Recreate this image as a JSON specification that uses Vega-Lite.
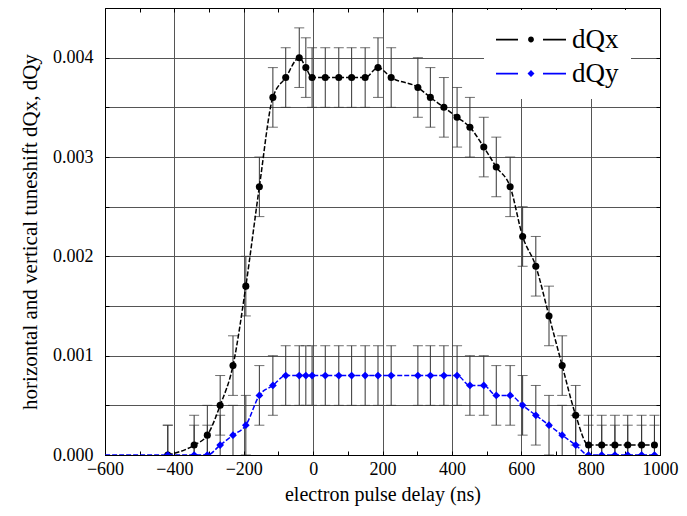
{
  "$schema": "https://vega.github.io/schema/vega-lite/v6.json",
  "width": 555,
  "height": 447,
  "autosize": {"type": "none"},
  "padding": {"left": 105, "top": 8, "right": 27, "bottom": 61},
  "background": "white",
  "config": {
    "font": "Liberation Serif",
    "view": {"stroke": "black", "strokeWidth": 1},
    "axisQuantitative": {"labelFont": "Liberation Serif", "titleFont": "Liberation Serif"},
    "axisX": {"labelFont": "Liberation Serif", "titleFont": "Liberation Serif"},
    "axisY": {"labelFont": "Liberation Serif", "titleFont": "Liberation Serif"},
    "style": {
      "guide-label": {"font": "Liberation Serif"},
      "guide-title": {"font": "Liberation Serif"}
    }
  },
  "data": {
    "values": [
      {"t": -640, "s": "dQy", "v": 0, "lo": -0.0003, "hi": 0.0003},
      {"t": -419, "s": "dQx", "v": 0, "lo": -0.0003, "hi": 0.0003},
      {"t": -343, "s": "dQx", "v": 0.0001, "lo": -0.0002, "hi": 0.0004},
      {"t": -305, "s": "dQx", "v": 0.0002, "lo": -0.0001, "hi": 0.0005},
      {"t": -268, "s": "dQx", "v": 0.0005, "lo": 0.0002, "hi": 0.0008},
      {"t": -231, "s": "dQx", "v": 0.0009, "lo": 0.0006, "hi": 0.0012},
      {"t": -194, "s": "dQx", "v": 0.0017, "lo": 0.0014, "hi": 0.002},
      {"t": -155, "s": "dQx", "v": 0.0027, "lo": 0.0024, "hi": 0.003},
      {"t": -116, "s": "dQx", "v": 0.0036, "lo": 0.0033, "hi": 0.0039},
      {"t": -79, "s": "dQx", "v": 0.0038, "lo": 0.0035, "hi": 0.0041},
      {"t": -40, "s": "dQx", "v": 0.004, "lo": 0.0037, "hi": 0.0043},
      {"t": -21, "s": "dQx", "v": 0.0039, "lo": 0.0036, "hi": 0.0042},
      {"t": -3, "s": "dQx", "v": 0.0038, "lo": 0.0035, "hi": 0.0041},
      {"t": 35, "s": "dQx", "v": 0.0038, "lo": 0.0035, "hi": 0.0041},
      {"t": 74, "s": "dQx", "v": 0.0038, "lo": 0.0035, "hi": 0.0041},
      {"t": 111, "s": "dQx", "v": 0.0038, "lo": 0.0035, "hi": 0.0041},
      {"t": 150, "s": "dQx", "v": 0.0038, "lo": 0.0035, "hi": 0.0041},
      {"t": 187, "s": "dQx", "v": 0.0039, "lo": 0.0036, "hi": 0.0042},
      {"t": 225, "s": "dQx", "v": 0.0038, "lo": 0.0035, "hi": 0.0041},
      {"t": 302, "s": "dQx", "v": 0.0037, "lo": 0.0034, "hi": 0.004},
      {"t": 338, "s": "dQx", "v": 0.0036, "lo": 0.0033, "hi": 0.0039},
      {"t": 377, "s": "dQx", "v": 0.0035, "lo": 0.0032, "hi": 0.0038},
      {"t": 415, "s": "dQx", "v": 0.0034, "lo": 0.0031, "hi": 0.0037},
      {"t": 452, "s": "dQx", "v": 0.0033, "lo": 0.003, "hi": 0.0036},
      {"t": 492, "s": "dQx", "v": 0.0031, "lo": 0.0028, "hi": 0.0034},
      {"t": 528, "s": "dQx", "v": 0.0029, "lo": 0.0026, "hi": 0.0032},
      {"t": 568, "s": "dQx", "v": 0.0027, "lo": 0.0024, "hi": 0.003},
      {"t": 604, "s": "dQx", "v": 0.0022, "lo": 0.0019, "hi": 0.0025},
      {"t": 642, "s": "dQx", "v": 0.0019, "lo": 0.0016, "hi": 0.0022},
      {"t": 680, "s": "dQx", "v": 0.0014, "lo": 0.0011, "hi": 0.0017},
      {"t": 718, "s": "dQx", "v": 0.0009, "lo": 0.0006, "hi": 0.0012},
      {"t": 757, "s": "dQx", "v": 0.0004, "lo": 0.0001, "hi": 0.0007},
      {"t": 794, "s": "dQx", "v": 0.0001, "lo": -0.0002, "hi": 0.0004},
      {"t": 832, "s": "dQx", "v": 0.0001, "lo": -0.0002, "hi": 0.0004},
      {"t": 870, "s": "dQx", "v": 0.0001, "lo": -0.0002, "hi": 0.0004},
      {"t": 907, "s": "dQx", "v": 0.0001, "lo": -0.0002, "hi": 0.0004},
      {"t": 947, "s": "dQx", "v": 0.0001, "lo": -0.0002, "hi": 0.0004},
      {"t": 984, "s": "dQx", "v": 0.0001, "lo": -0.0002, "hi": 0.0004},
      {"t": -419, "s": "dQy", "v": 0, "lo": -0.0003, "hi": 0.0003},
      {"t": -343, "s": "dQy", "v": 0, "lo": -0.0003, "hi": 0.0003},
      {"t": -305, "s": "dQy", "v": 0, "lo": -0.0003, "hi": 0.0003},
      {"t": -268, "s": "dQy", "v": 0.0001, "lo": -0.0002, "hi": 0.0004},
      {"t": -231, "s": "dQy", "v": 0.0002, "lo": -0.0001, "hi": 0.0005},
      {"t": -194, "s": "dQy", "v": 0.0003, "lo": 0, "hi": 0.0006},
      {"t": -155, "s": "dQy", "v": 0.0006, "lo": 0.0003, "hi": 0.0009},
      {"t": -116, "s": "dQy", "v": 0.0007, "lo": 0.0004, "hi": 0.001},
      {"t": -79, "s": "dQy", "v": 0.0008, "lo": 0.0005, "hi": 0.0011},
      {"t": -40, "s": "dQy", "v": 0.0008, "lo": 0.0005, "hi": 0.0011},
      {"t": -21, "s": "dQy", "v": 0.0008, "lo": 0.0005, "hi": 0.0011},
      {"t": -3, "s": "dQy", "v": 0.0008, "lo": 0.0005, "hi": 0.0011},
      {"t": 35, "s": "dQy", "v": 0.0008, "lo": 0.0005, "hi": 0.0011},
      {"t": 74, "s": "dQy", "v": 0.0008, "lo": 0.0005, "hi": 0.0011},
      {"t": 111, "s": "dQy", "v": 0.0008, "lo": 0.0005, "hi": 0.0011},
      {"t": 150, "s": "dQy", "v": 0.0008, "lo": 0.0005, "hi": 0.0011},
      {"t": 187, "s": "dQy", "v": 0.0008, "lo": 0.0005, "hi": 0.0011},
      {"t": 225, "s": "dQy", "v": 0.0008, "lo": 0.0005, "hi": 0.0011},
      {"t": 302, "s": "dQy", "v": 0.0008, "lo": 0.0005, "hi": 0.0011},
      {"t": 338, "s": "dQy", "v": 0.0008, "lo": 0.0005, "hi": 0.0011},
      {"t": 377, "s": "dQy", "v": 0.0008, "lo": 0.0005, "hi": 0.0011},
      {"t": 415, "s": "dQy", "v": 0.0008, "lo": 0.0005, "hi": 0.0011},
      {"t": 452, "s": "dQy", "v": 0.0007, "lo": 0.0004, "hi": 0.001},
      {"t": 492, "s": "dQy", "v": 0.0007, "lo": 0.0004, "hi": 0.001},
      {"t": 528, "s": "dQy", "v": 0.0006, "lo": 0.0003, "hi": 0.0009},
      {"t": 568, "s": "dQy", "v": 0.0006, "lo": 0.0003, "hi": 0.0009},
      {"t": 604, "s": "dQy", "v": 0.0005, "lo": 0.0002, "hi": 0.0008},
      {"t": 642, "s": "dQy", "v": 0.0004, "lo": 0.0001, "hi": 0.0007},
      {"t": 680, "s": "dQy", "v": 0.0003, "lo": 0, "hi": 0.0006},
      {"t": 718, "s": "dQy", "v": 0.0002, "lo": -0.0001, "hi": 0.0005},
      {"t": 757, "s": "dQy", "v": 0.0001, "lo": -0.0002, "hi": 0.0004},
      {"t": 794, "s": "dQy", "v": 0, "lo": -0.0003, "hi": 0.0003},
      {"t": 832, "s": "dQy", "v": 0, "lo": -0.0003, "hi": 0.0003},
      {"t": 870, "s": "dQy", "v": 0, "lo": -0.0003, "hi": 0.0003},
      {"t": 907, "s": "dQy", "v": 0, "lo": -0.0003, "hi": 0.0003},
      {"t": 947, "s": "dQy", "v": 0, "lo": -0.0003, "hi": 0.0003},
      {"t": 984, "s": "dQy", "v": 0, "lo": -0.0003, "hi": 0.0003}
    ]
  },
  "resolve": {"axis": {"x": "independent", "y": "independent"}},
  "layer": [
    {
      "transform": [{"filter": "datum.t > 100000"}],
      "mark": {"type": "point", "filled": true, "opacity": 1, "size": 1225},
      "encoding": {
        "x": {"field": "t", "type": "quantitative", "axis": null},
        "y": {"field": "v", "type": "quantitative", "axis": null},
        "color": {
          "field": "s", "type": "nominal",
          "scale": {"domain": ["dQx", "dQy"], "range": ["black", "#0000ff"]},
          "legend": {
            "title": null,
            "orient": "none",
            "legendX": 379,
            "legendY": 2,
            "fillColor": "white",
            "padding": 12,
            "labelFont": "Liberation Serif",
            "labelFontSize": 27,
            "labelColor": "black",
            "labelOffset": 41,
            "symbolSize": 1225,
            "symbolStrokeWidth": 0,
            "symbolOpacity": 1,
            "rowPadding": 3
          }
        },
        "shape": {
          "field": "s", "type": "nominal",
          "scale": {"domain": ["dQx", "dQy"], "range": [
            "M-1,-0.05L0.257,-0.05L0.257,0.05L-1,0.05ZM1.686,-0.05L3,-0.05L3,0.05L1.686,0.05ZM0.834,0A0.166,0.166,0,1,0,1.166,0A0.166,0.166,0,1,0,0.834,0Z",
            "M-1,-0.05L0.257,-0.05L0.257,0.05L-1,0.05ZM1.686,-0.05L3,-0.05L3,0.05L1.686,0.05ZM1,-0.2L1.2,0L1,0.2L0.8,0Z"
          ]}
        }
      }
    },
    {
      "mark": {"type": "rule", "clip": true, "color": "#333", "strokeWidth": 1},
      "encoding": {
        "x": {
          "field": "t", "type": "quantitative",
          "scale": {"domain": [-600, 1000], "nice": false, "zero": false},
          "axis": {
            "orient": "bottom",
            "values": [-600, -400, -200, 0, 200, 400, 600, 800, 1000],
            "format": "d",
            "labelFont": "Liberation Serif",
            "titleFont": "Liberation Serif",
            "labelFontSize": 18,
            "titleFontSize": 20,
            "labelColor": "black",
            "titleColor": "black",
            "titleFontWeight": "normal",
            "domainColor": "black",
            "tickColor": "black",
            "tickSize": -4,
            "labelPadding": 9,
            "labelFlush": false,
            "labelOverlap": false,
            "title": "electron pulse delay (ns)",
            "titlePadding": 6,
            "grid": false
          }
        },
        "y": {
          "field": "lo", "type": "quantitative",
          "scale": {"domain": [0, 0.0045], "nice": false, "zero": false},
          "axis": {
            "orient": "left",
            "values": [0, 0.001, 0.002, 0.003, 0.004],
            "format": ".3f",
            "labelFont": "Liberation Serif",
            "titleFont": "Liberation Serif",
            "labelFontSize": 18,
            "titleFontSize": 21,
            "labelColor": "black",
            "titleColor": "black",
            "titleFontWeight": "normal",
            "domainColor": "black",
            "tickColor": "black",
            "tickSize": -4,
            "labelPadding": 16,
            "labelOverlap": false,
            "labelFlush": false,
            "title": "horizontal and vertical tuneshift dQx, dQy",
            "titlePadding": 12,
            "grid": false
          }
        },
        "y2": {"field": "hi"}
      }
    },
    {
      "mark": {"type": "tick", "clip": true, "orient": "horizontal", "color": "#333", "size": 10, "thickness": 1},
      "encoding": {
        "x": {
          "field": "t", "type": "quantitative",
          "axis": {"orient": "bottom", "values": [-500, -300, -100, 100, 300, 500, 700, 900], "labels": false, "domain": false, "tickSize": -4, "tickColor": "black", "grid": false, "title": null}
        },
        "y": {
          "field": "hi", "type": "quantitative",
          "axis": {"orient": "left", "values": [0.0005, 0.0015, 0.0025, 0.0035], "labels": false, "domain": false, "tickSize": -4, "tickColor": "black", "grid": false, "title": null}
        }
      }
    },
    {
      "mark": {"type": "tick", "clip": true, "orient": "horizontal", "color": "#333", "size": 10, "thickness": 1},
      "encoding": {
        "x": {
          "field": "t", "type": "quantitative",
          "axis": {"orient": "top", "values": [-500, -400, -300, -200, -100, 0, 100, 200, 300, 400, 500, 600, 700, 800, 900], "labels": false, "domainColor": "black", "tickSize": -4, "tickColor": "black", "grid": false, "title": null}
        },
        "y": {
          "field": "lo", "type": "quantitative",
          "axis": {"orient": "right", "values": [0.0005, 0.001, 0.0015, 0.002, 0.0025, 0.003, 0.0035, 0.004], "labels": false, "domainColor": "black", "tickSize": -4, "tickColor": "black", "grid": true, "gridColor": "#555", "gridOpacity": 1, "title": null}
        }
      }
    },
    {
      "transform": [{"filter": "datum.s === 'dQx'"}],
      "mark": {"type": "line", "clip": true, "interpolate": "monotone", "strokeWidth": 1.5, "strokeDash": [5, 2], "color": "black"},
      "encoding": {
        "x": {
          "field": "t", "type": "quantitative",
          "axis": {"orient": "top", "values": [-400, -200, 0, 200, 400, 600, 800], "labels": false, "domain": false, "ticks": false, "grid": true, "gridColor": "#555", "gridOpacity": 1, "title": null}
        },
        "y": {"field": "v", "type": "quantitative", "axis": null}
      }
    },
    {
      "transform": [{"filter": "datum.s === 'dQy'"}],
      "mark": {"type": "line", "clip": true, "interpolate": "monotone", "strokeWidth": 1.5, "strokeDash": [5, 2], "color": "#0000ff"},
      "encoding": {
        "x": {"field": "t", "type": "quantitative", "axis": null},
        "y": {"field": "v", "type": "quantitative", "axis": null}
      }
    },
    {
      "transform": [{"filter": "datum.s === 'dQx'"}],
      "mark": {"type": "point", "clip": true, "filled": true, "opacity": 1, "shape": "circle", "size": 50, "color": "black"},
      "encoding": {
        "x": {"field": "t", "type": "quantitative", "axis": null},
        "y": {"field": "v", "type": "quantitative", "axis": null}
      }
    },
    {
      "transform": [{"filter": "datum.s === 'dQy'"}],
      "mark": {"type": "point", "clip": true, "filled": true, "opacity": 1, "shape": "diamond", "size": 60, "color": "#0000ff"},
      "encoding": {
        "x": {"field": "t", "type": "quantitative", "axis": null},
        "y": {"field": "v", "type": "quantitative", "axis": null}
      }
    }
  ]
}
